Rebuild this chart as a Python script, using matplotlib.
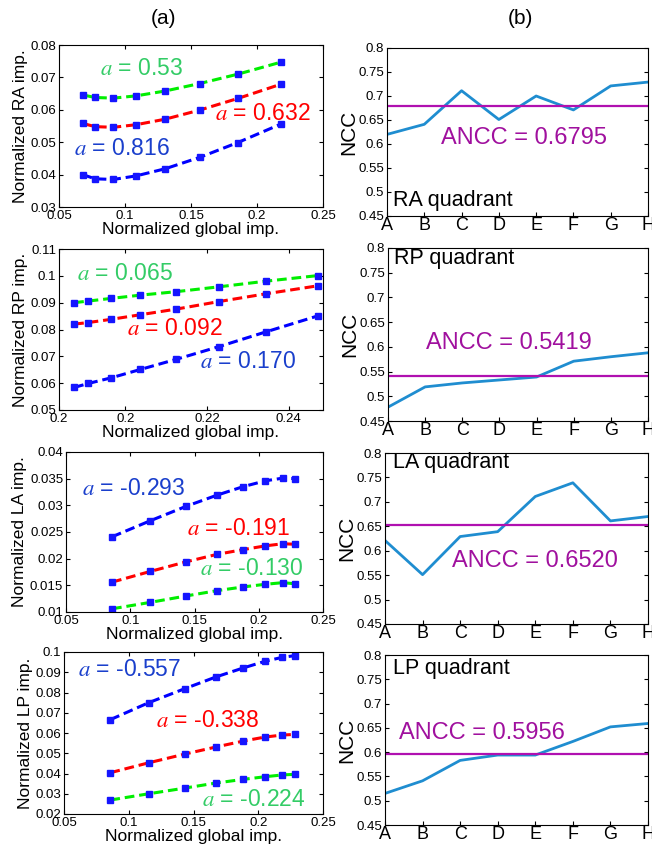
import matplotlib
matplotlib.use("Agg")
import matplotlib.pyplot as plt
from matplotlib.ticker import FormatStrFormatter

plt.rcParams['font.family'] = ['Liberation Sans', 'DejaVu Sans']
plt.rcParams['mathtext.fontset'] = 'stix'
plt.rcParams['lines.scale_dashes'] = False

# ---- left column: quadrant imp. vs normalized global imp. ----
ra_x = [0.068, 0.0773, 0.0912, 0.1084, 0.1304, 0.1565, 0.1855, 0.2181]
ra_green = [0.0646, 0.0638, 0.0636, 0.0643, 0.0658, 0.0681, 0.0710, 0.0747]
ra_red = [0.0558, 0.0548, 0.0546, 0.0554, 0.0571, 0.0599, 0.0635, 0.0679]
ra_blue = [0.0400, 0.0387, 0.0385, 0.0396, 0.0418, 0.0453, 0.0499, 0.0556]

rp_x = [0.1875, 0.1910, 0.1966, 0.2037, 0.2125, 0.2229, 0.2344, 0.2472]
rp_green = [0.0900, 0.0906, 0.0916, 0.0928, 0.0941, 0.0959, 0.0980, 0.1001]
rp_red = [0.0820, 0.0826, 0.0838, 0.0855, 0.0876, 0.0904, 0.0933, 0.0963]
rp_blue = [0.0584, 0.0599, 0.0620, 0.0651, 0.0689, 0.0736, 0.0791, 0.0851]

la_x = [0.0858, 0.1155, 0.1433, 0.1674, 0.1878, 0.2052, 0.2187, 0.2280]
la_blue = [0.0241, 0.0271, 0.0298, 0.0319, 0.0335, 0.0346, 0.0351, 0.0350]
la_red = [0.0156, 0.0176, 0.0194, 0.0208, 0.0217, 0.0224, 0.0228, 0.0227]
la_green = [0.0106, 0.0118, 0.0130, 0.0140, 0.0147, 0.0152, 0.0155, 0.0153]

lp_x = [0.0858, 0.1155, 0.1433, 0.1674, 0.1883, 0.2052, 0.2187, 0.2283]
lp_blue = [0.0666, 0.0750, 0.0819, 0.0877, 0.0921, 0.0954, 0.0974, 0.0982]
lp_red = [0.0404, 0.0453, 0.0496, 0.0531, 0.0560, 0.0580, 0.0590, 0.0593]
lp_green = [0.0269, 0.0300, 0.0328, 0.0353, 0.0371, 0.0384, 0.0393, 0.0396]

# fitted a per curve, ordered green, red, blue
ra_a = ["0.53", "0.632", "0.816"]
rp_a = ["0.065", "0.092", "0.170"]
la_a = ["-0.130", "-0.191", "-0.293"]
lp_a = ["-0.224", "-0.338", "-0.557"]

# ---- right column: NCC per subject ----
subjects = ["A", "B", "C", "D", "E", "F", "G", "H"]
ncc_ra = [0.62, 0.641, 0.711, 0.651, 0.70, 0.671, 0.721, 0.729]
ncc_rp = [0.478, 0.519, 0.527, 0.533, 0.539, 0.571, 0.580, 0.588]
ncc_la = [0.621, 0.551, 0.629, 0.639, 0.711, 0.739, 0.661, 0.670]
ncc_lp = [0.515, 0.541, 0.583, 0.594, 0.594, 0.622, 0.652, 0.659]
ancc = [0.6795, 0.5419, 0.6520, 0.5956]
quadrants = ["RA", "RP", "LA", "LP"]

W, H = 652, 848
fig = plt.figure(figsize=(W / 100, H / 100), dpi=100)


def ax_px(x0, y0, x1, y1):
    return fig.add_axes([x0 / W, (H - y1) / H, (x1 - x0) / W, (y1 - y0) / H])


GREEN_LINE, RED_LINE, BLUE_LINE = "#00ee00", "#ff0000", "#0000ff"
GREEN_TXT, RED_TXT, BLUE_TXT = "#33cc66", "#ff0000", "#1a3fcc"
MARK = "#1515ff"


def style(ax, top=True):
    ax.tick_params(direction="in", top=top, right=True, labelsize=9.5,
                   length=3, pad=2)
    for s in ax.spines.values():
        s.set_linewidth(0.8)


def left_panel(ax, x, series, labels, pos, xlim, ylim, yticks, name):
    for y, c in series:
        ax.plot(x, y, color=c, lw=2.2, ls=(0, (7, 3.5)), marker="s", ms=4.6,
                mfc=MARK, mec=MARK)
    for txt, (px, py), c in zip(labels, pos, [GREEN_TXT, RED_TXT, BLUE_TXT]):
        ax.text(px, py, "$a$ = " + txt, color=c, fontsize=16.5, ha="left",
                va="center")
    ax.set_xlim(*xlim)
    ax.set_ylim(*ylim)
    ax.set_yticks(yticks)
    ax.yaxis.set_major_formatter(FormatStrFormatter("%g"))
    ax.xaxis.set_major_formatter(FormatStrFormatter("%g"))
    ax.set_xlabel("Normalized global imp.", fontsize=12.5, labelpad=0)
    ax.set_ylabel("Normalized %s imp." % name, fontsize=12.5, labelpad=2)
    style(ax)


# RA
ax = ax_px(59, 45, 323, 207)
left_panel(ax, ra_x, [(ra_green, GREEN_LINE), (ra_red, RED_LINE), (ra_blue, BLUE_LINE)],
           ra_a, [(0.0811, 0.0728), (0.1683, 0.0589), (0.0614, 0.0480)],
           (0.05, 0.25), (0.03, 0.08), [0.03, 0.04, 0.05, 0.06, 0.07, 0.08], "RA")
ax.set_xticks([0.05, 0.1, 0.15, 0.2, 0.25])

# RP
ax = ax_px(59, 249, 323, 410)
left_panel(ax, rp_x, [(rp_green, GREEN_LINE), (rp_red, RED_LINE), (rp_blue, BLUE_LINE)],
           rp_a, [(0.1882, 0.1010), (0.2004, 0.0804), (0.2184, 0.0679)],
           (0.1838, 0.2484), (0.05, 0.11), [0.05, 0.06, 0.07, 0.08, 0.09, 0.1, 0.11], "RP")
ax.set_xticks([0.1838, 0.20, 0.22, 0.24])
ax.set_xticklabels(["0.2", "0.2", "0.22", "0.24"])

# LA
ax = ax_px(66, 452, 323, 612)
left_panel(ax, la_x, [(la_green, GREEN_LINE), (la_red, RED_LINE), (la_blue, BLUE_LINE)],
           la_a, [(0.1544, 0.0182), (0.1440, 0.0257), (0.0624, 0.0332)],
           (0.05, 0.25), (0.01, 0.04),
           [0.01, 0.015, 0.02, 0.025, 0.03, 0.035, 0.04], "LA")
ax.set_xticks([0.05, 0.1, 0.15, 0.2, 0.25])

# LP
ax = ax_px(64, 652, 323, 814)
left_panel(ax, lp_x, [(lp_green, GREEN_LINE), (lp_red, RED_LINE), (lp_blue, BLUE_LINE)],
           lp_a, [(0.1562, 0.0271), (0.1213, 0.0663), (0.0606, 0.0913)],
           (0.05, 0.25), (0.02, 0.1),
           [0.02, 0.03, 0.04, 0.05, 0.06, 0.07, 0.08, 0.09, 0.1], "LP")
ax.set_xticks([0.05, 0.1, 0.15, 0.2, 0.25])

# right column
right_boxes = [(387, 48, 648, 216), (388, 248, 648, 421),
               (385, 453, 648, 624), (385, 655, 648, 825)]
ncc_sets = [ncc_ra, ncc_rp, ncc_la, ncc_lp]
ancc_pos = [(2.46, 0.612), (2.03, 0.607), (2.77, 0.578), (1.36, 0.640)]
quad_pos = [(1.16, 0.483), (1.16, 0.778), (1.20, 0.780), (1.20, 0.772)]
xs = list(range(1, len(subjects) + 1))

for box, ncc, mean, q, apos, qpos in zip(right_boxes, ncc_sets, ancc, quadrants,
                                        ancc_pos, quad_pos):
    ax = ax_px(*box)
    ax.plot(xs, ncc, color="#1f8dd0", lw=2.0)
    ax.axhline(mean, color="#b010b0", lw=1.6)
    ax.text(apos[0], apos[1], "ANCC = %.4f" % mean, color="#a0109e",
            fontsize=17, ha="left", va="center")
    ax.text(qpos[0], qpos[1], "%s quadrant" % q, color="black", fontsize=15.5,
            ha="left", va="center")
    ax.set_xlim(1, 8)
    ax.set_ylim(0.45, 0.8)
    ax.set_xticks(xs)
    ax.set_xticklabels(subjects, fontsize=13)
    ax.set_yticks([0.45, 0.5, 0.55, 0.6, 0.65, 0.7, 0.75, 0.8])
    ax.yaxis.set_major_formatter(FormatStrFormatter("%g"))
    ax.set_ylabel("NCC", fontsize=15, labelpad=0)
    style(ax, top=False)
    ax.tick_params(axis="x", labelsize=13, pad=1)

fig.text(163 / W, 1 - 18 / H, "(a)", fontsize=15, ha="center", va="center")
fig.text(520 / W, 1 - 18 / H, "(b)", fontsize=15, ha="center", va="center")

fig.savefig("out.png", dpi=100)
